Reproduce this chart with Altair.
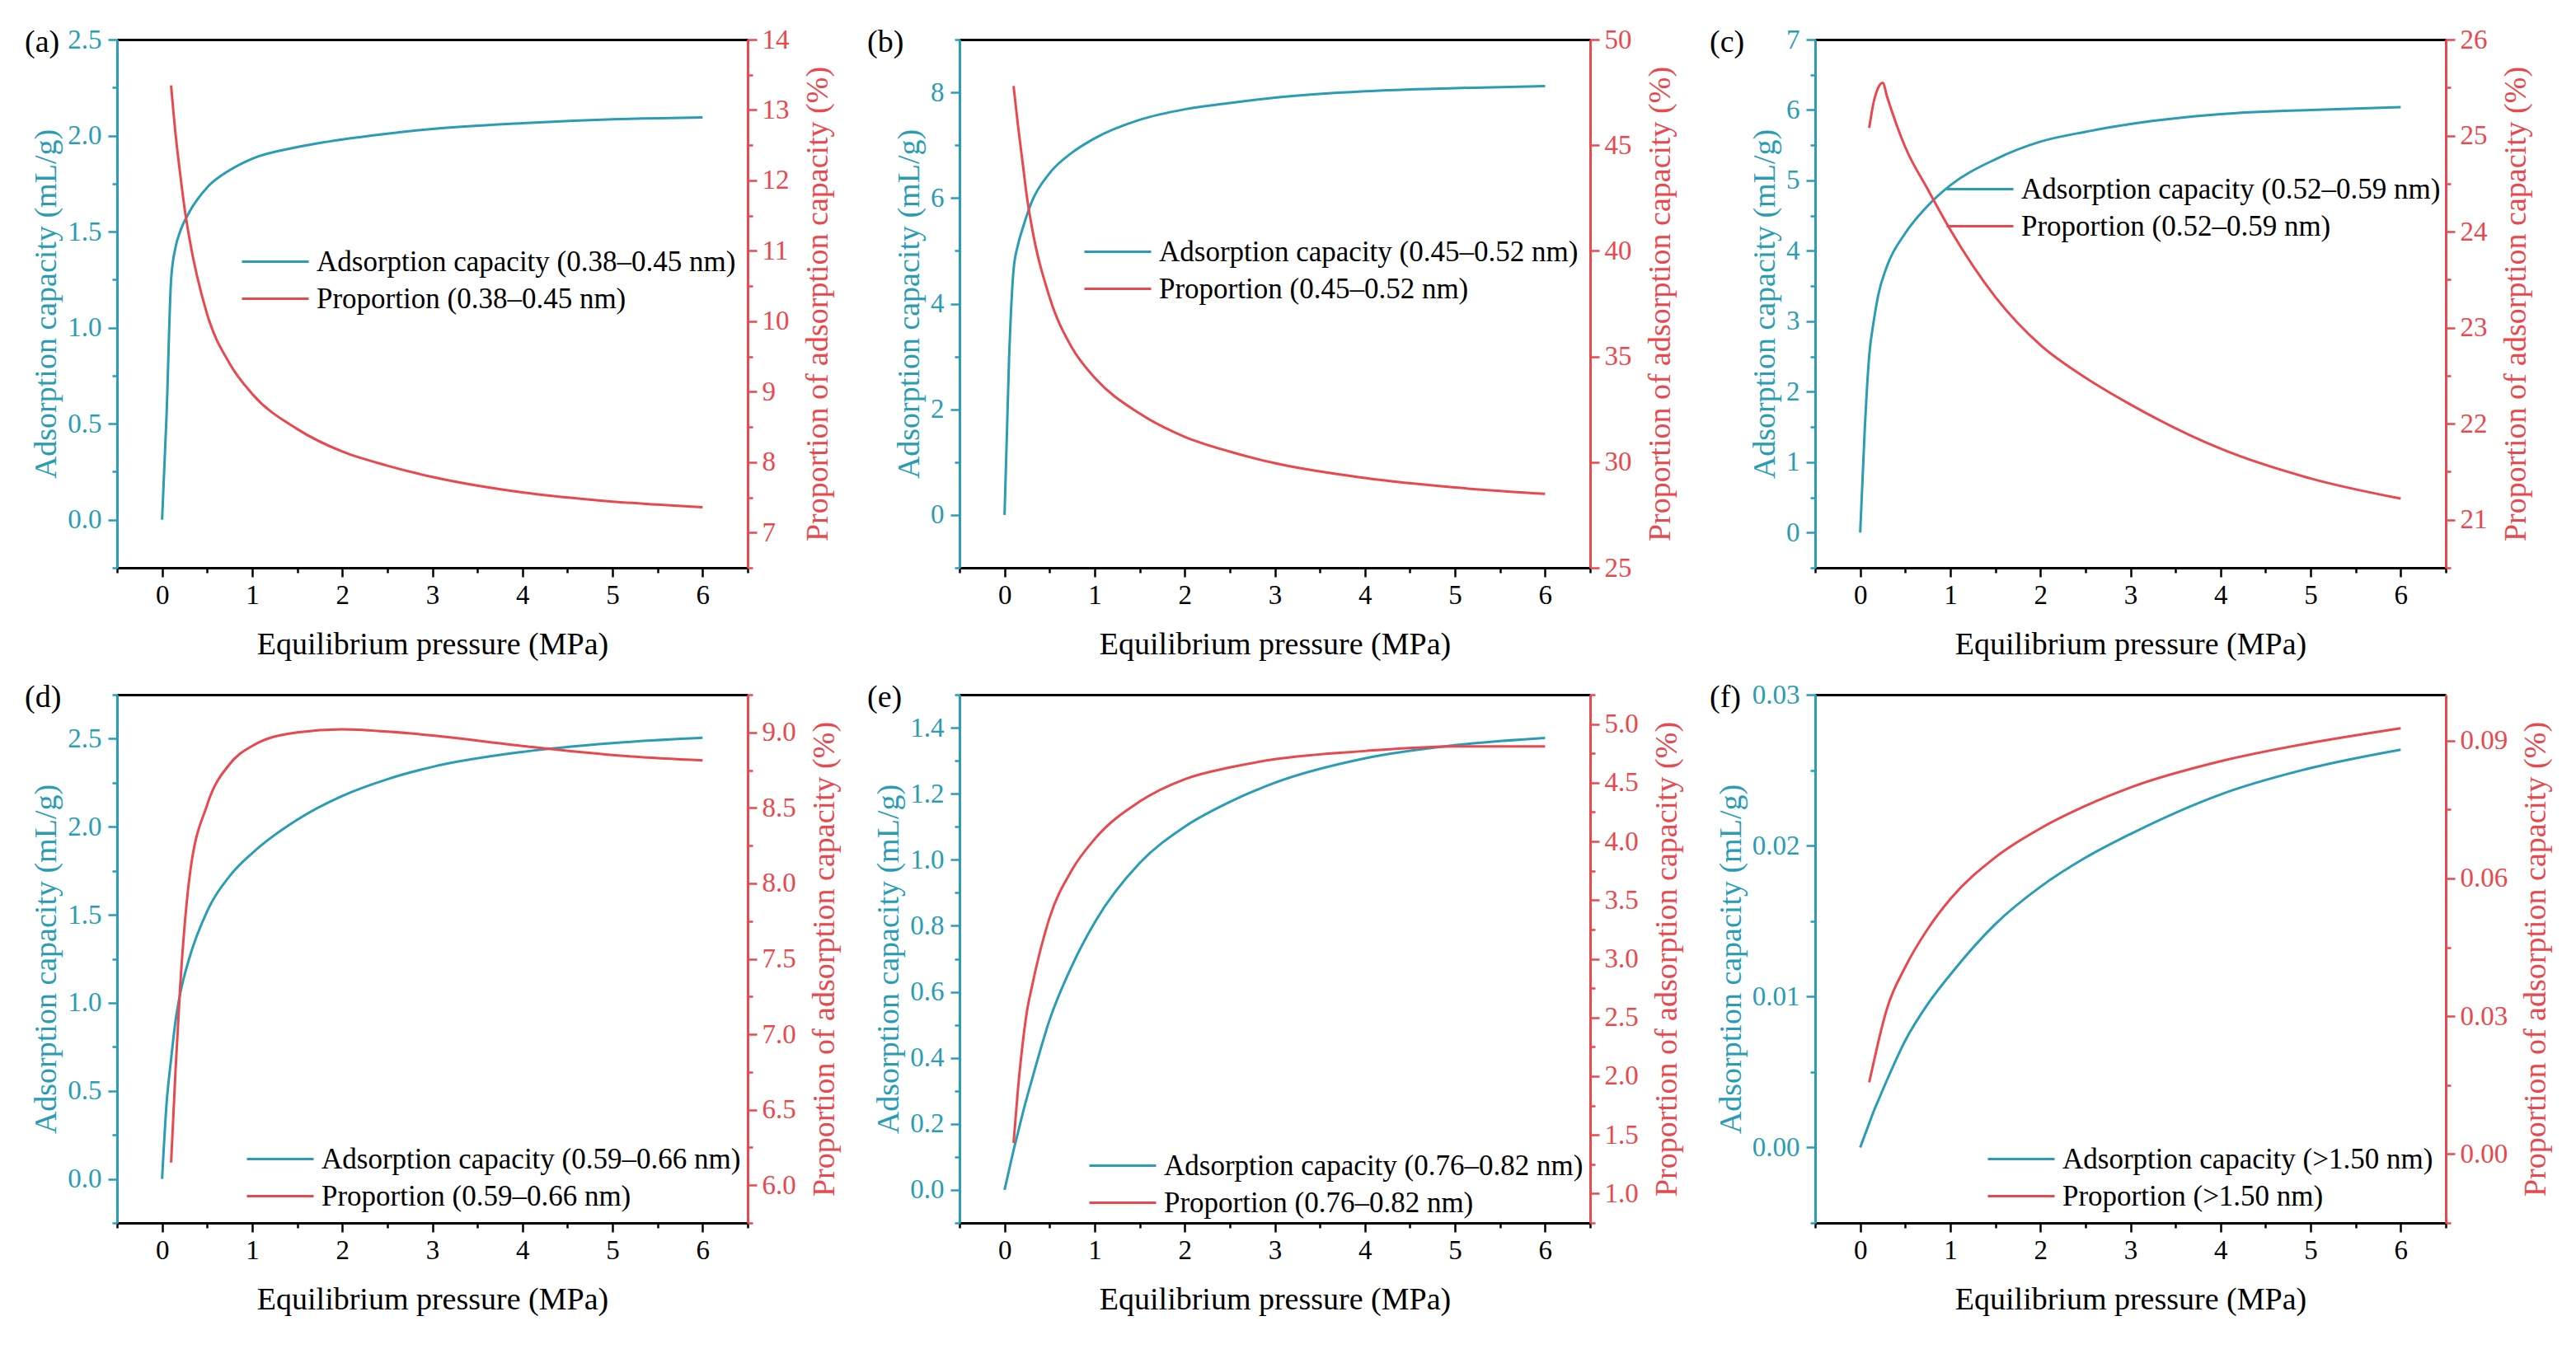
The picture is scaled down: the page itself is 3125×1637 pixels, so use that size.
import altair as alt
import pandas as pd

TEAL = "#2a9db4"
RED = "#e8494e"
FONT = "Liberation Serif"

# pressure grids (MPa)
pressure_ads = [0, 0.05, 0.1, 0.15, 0.2, 0.3, 0.5, 0.75, 1, 1.5, 2, 2.5, 3, 4, 5, 6]
pressure_prop = [0.1, 0.15, 0.2, 0.25, 0.3, 0.5, 0.75, 1, 1.5, 2, 2.5, 3, 4, 5, 6]

letters = ["(a)", "(b)", "(c)", "(d)", "(e)", "(f)"]
pore_ranges = ["0.38–0.45", "0.45–0.52", "0.52–0.59", "0.59–0.66", "0.76–0.82", ">1.50"]

# adsorption capacity (mL/g)
ads_a = [0, 0.55, 1.25, 1.42, 1.50, 1.60, 1.73, 1.82, 1.88, 1.94, 1.98, 2.01, 2.035, 2.065, 2.085, 2.095]
ads_b = [0, 2.95, 4.64, 5.12, 5.42, 5.92, 6.47, 6.86, 7.13, 7.48, 7.68, 7.80, 7.90, 8.02, 8.08, 8.12]
ads_c = [0, 1.45, 2.51, 3.00, 3.37, 3.79, 4.25, 4.64, 4.93, 5.30, 5.55, 5.69, 5.80, 5.94, 6.00, 6.04]
ads_d = [0, 0.43, 0.68, 0.90, 1.05, 1.25, 1.52, 1.72, 1.85, 2.04, 2.175, 2.27, 2.34, 2.425, 2.475, 2.505]
ads_e = [0, 0.06, 0.12, 0.175, 0.23, 0.33, 0.515, 0.68, 0.81, 0.99, 1.10, 1.175, 1.233, 1.307, 1.347, 1.369]
ads_f = [0, 0.0008, 0.0016, 0.0024, 0.0031, 0.0045, 0.00708, 0.0095, 0.01145, 0.0148, 0.01727, 0.0192,
         0.02077, 0.02339, 0.02514, 0.02636]

# proportion of adsorption capacity (%)
prop_a = [13.35, 12.65, 12.1, 11.6, 11.2, 10.1, 9.4, 8.97, 8.47, 8.15, 7.95, 7.79, 7.57, 7.44, 7.36]
prop_b = [47.8, 45.9, 44.2, 42.5, 41.2, 37.8, 35.4, 34.0, 32.3, 31.2, 30.5, 29.95, 29.25, 28.8, 28.5]
prop_c = [25.08, 25.35, 25.5, 25.55, 25.4, 24.88, 24.44, 24.02, 23.32, 22.82, 22.48, 22.2, 21.74, 21.43, 21.22]
prop_d = [6.15, 6.77, 7.31, 7.72, 8.02, 8.52, 8.79, 8.91, 9.0, 9.02, 9.005, 8.98, 8.91, 8.85, 8.815]
prop_e = [1.43, 1.9, 2.27, 2.56, 2.75, 3.35, 3.76, 4.02, 4.34, 4.53, 4.63, 4.70, 4.77, 4.81, 4.81]
prop_f = [0.0156, 0.020, 0.0243, 0.0283, 0.0318, 0.0407, 0.049, 0.0555, 0.0646, 0.0709, 0.0758, 0.0798,
          0.0855, 0.0895, 0.0927]

# axis setup: (domain lo, domain hi, major step, minor step, format)
left_axes = [(-0.25, 2.5, 0.5, 0.25, ".1f"), (-1, 9, 2, 1, ".0f"), (-0.5, 7, 1, 0.5, ".0f"),
             (-0.25, 2.75, 0.5, 0.25, ".1f"), (-0.1, 1.5, 0.2, 0.1, ".1f"), (-0.005, 0.03, 0.01, 0.005, ".2f")]
right_axes = [(6.5, 14, 1, 0.5, ".0f"), (25, 50, 5, 2.5, ".0f"), (20.5, 26, 1, 0.5, ".0f"),
              (5.75, 9.25, 0.5, 0.25, ".1f"), (0.75, 5.25, 0.5, 0.25, ".1f"), (-0.015, 0.1, 0.03, 0.015, ".2f")]
x_axis_spec = (-0.5, 6.5, 1, 0.5, ".0f")

legend_pos = [(150, 247), (150, 235), (158, 159), (156, 541), (156, 549), (208, 541)]
tag_dx = [-112, -112, -128, -112, -112, -128]

ads_all = [ads_a, ads_b, ads_c, ads_d, ads_e, ads_f]
prop_all = [prop_a, prop_b, prop_c, prop_d, prop_e, prop_f]


def axis_ticks(spec):
    lo, hi, major, minor, fmt = spec
    n = int(round((hi - lo) / minor))
    vals = [round(lo + i * minor, 6) for i in range(n + 1)]
    majors = [v for v in vals if abs(v / major - round(v / major)) < 1e-6]
    is_major = "indexof([" + ",".join(repr(v) for v in majors) + "], datum.value) >= 0"
    return vals, is_major, fmt, minor


def make_axis(spec, orient, color, title, **extra):
    vals, is_major, fmt, minor = axis_ticks(spec)
    if fmt == ".0f":
        # integer labels would otherwise thin out the half-step minor ticks
        extra["tickMinStep"] = minor
    return alt.Axis(
        orient=orient, values=vals, format=fmt, title=title,
        labelExpr=f"{is_major} ? datum.label : ''",
        tickSize={"condition": {"test": is_major, "value": 11}, "value": 6},
        domainColor=color, tickColor=color, labelColor=color, titleColor=color,
        grid=False, labelFlush=False, labelOverlap=False,
        labelFontSize=33, titleFontSize=38,
        **extra,
    )


def panel(i):
    rng = pore_ranges[i]
    lab_ads = f"Adsorption capacity ({rng} nm)"
    lab_prop = f"Proportion ({rng} nm)"
    df_a = pd.DataFrame({"p": pressure_ads, "v": ads_all[i], "s": lab_ads})
    df_p = pd.DataFrame({"p": pressure_prop, "v": prop_all[i], "s": lab_prop})

    color = alt.Color(
        "s:N",
        scale=alt.Scale(domain=[lab_ads, lab_prop], range=[TEAL, RED]),
        legend=alt.Legend(
            orient="none", legendX=legend_pos[i][0], legendY=legend_pos[i][1], title=None,
            symbolType="stroke", symbolSize=6561, symbolStrokeWidth=3,
            labelFont=FONT, labelFontSize=35, labelOffset=8, labelLimit=0,
            clipHeight=45, rowPadding=0, padding=0,
        ),
    )
    x_scale = alt.Scale(domain=[x_axis_spec[0], x_axis_spec[1]], nice=False, zero=False)
    x_axis = make_axis(x_axis_spec, "bottom", "black", "Equilibrium pressure (MPa)",
                       labelPadding=6, titlePadding=24)
    top_axis = alt.Axis(orient="top", labels=False, ticks=False, title=None,
                        domainColor="black", grid=False, minExtent=0, maxExtent=0)

    lo, hi = left_axes[i][0], left_axes[i][1]
    blue = alt.Chart(df_a).mark_line(strokeWidth=3, interpolate="monotone").encode(
        x=alt.X("p:Q", scale=x_scale, axis=x_axis),
        y=alt.Y("v:Q", scale=alt.Scale(domain=[lo, hi], nice=False, zero=False),
                axis=make_axis(left_axes[i], "left", TEAL, "Adsorption capacity (mL/g)",
                               titleAngle=270, labelPadding=8, titlePadding=6)),
        color=color,
    )
    rlo, rhi = right_axes[i][0], right_axes[i][1]
    red = alt.Chart(df_p).mark_line(strokeWidth=3, interpolate="monotone").encode(
        x=alt.X("p:Q", scale=x_scale, axis=top_axis),
        y=alt.Y("v:Q", scale=alt.Scale(domain=[rlo, rhi], nice=False, zero=False),
                axis=make_axis(right_axes[i], "right", RED, "Proportion of adsorption capacity (%)",
                               titleAngle=270, titleBaseline="top", labelPadding=6, titlePadding=16)),
        color=color,
    )
    tag = alt.Chart(pd.DataFrame({"t": [letters[i]]})).mark_text(
        font=FONT, fontSize=38, align="left", baseline="middle", color="black"
    ).encode(text="t:N", x=alt.value(tag_dx[i]), y=alt.value(4))

    return alt.layer(blue, red, tag).resolve_scale(y="independent").resolve_axis(
        x="independent", y="independent"
    ).properties(width=765, height=641)


panels = [panel(i) for i in range(6)]
chart = alt.concat(*panels, columns=3, align="each", spacing={"row": 26, "column": 32}).resolve_scale(
    color="independent"
).properties(
    padding={"left": 22, "top": 24, "right": 5, "bottom": 5},
    background="white",
).configure_axis(
    labelFont=FONT, titleFont=FONT, titleFontWeight="normal",
    domainWidth=3, tickWidth=2.5,
).configure_view(strokeWidth=0)

chart.save("out.html", embed_options={"renderer": "svg", "actions": False})
